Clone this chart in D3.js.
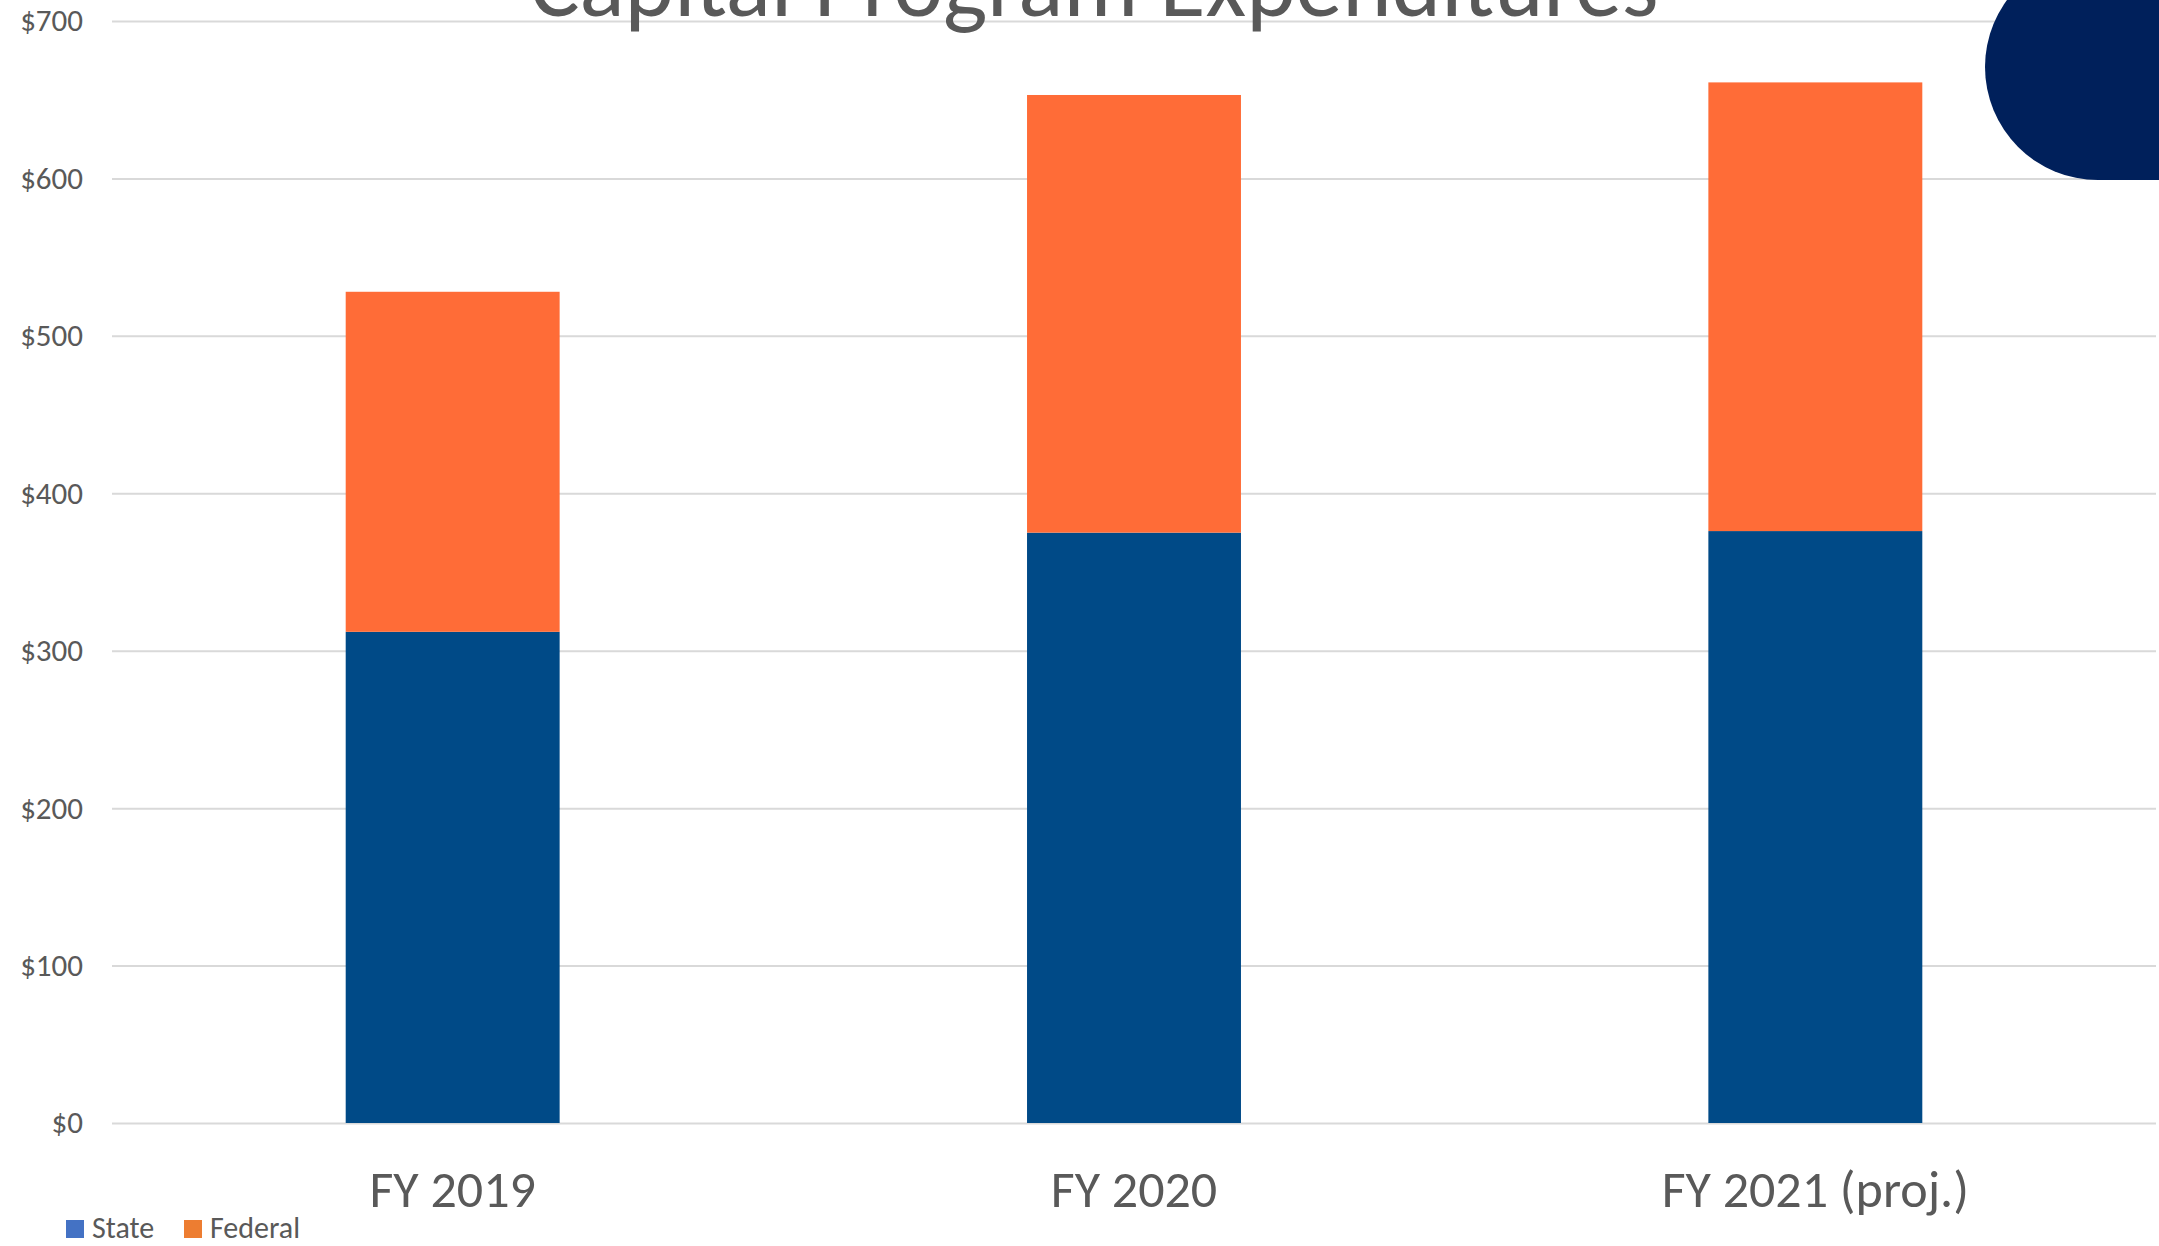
<!DOCTYPE html>
<html lang="en">
<head>
    <meta charset="UTF-8">
    <title>Capital Program Expenditures</title>
    <script src="https://d3js.org/d3.v7.min.js"></script>
    <style>
        body { margin: 0; background: #fff; }
        text { font-family: Carlito, Lato, "Open Sans", sans-serif; fill: #595959; }
    </style>
</head>
<body>
    <div id="chart"></div>
    <script>
        // Data (millions of dollars)
        const categories = ["FY 2019", "FY 2020", "FY 2021 (proj.)"];
        const stateValues = [312, 375, 376];
        const federalValues = [216, 278, 285];
        const seriesNames = ["State", "Federal"];
        const yTicks = [0, 100, 200, 300, 400, 500, 600, 700];

        const width = 2159;
        const height = 1246;
        const plotLeft = 112;
        const plotRight = 2156;
        const plotTop = 21;
        const plotBottom = 1123;

        const svg = d3.select("#chart")
            .append("svg")
            .attr("width", width)
            .attr("height", height);

        svg.append("rect")
            .attr("width", width)
            .attr("height", height)
            .attr("fill", "#fff");

        const x = d3.scaleBand()
            .domain(categories)
            .range([plotLeft, plotRight])
            .paddingInner(0.686)
            .paddingOuter(0.343);

        const y = d3.scaleLinear()
            .domain([0, 700])
            .range([plotBottom, plotTop]);

        // Gridlines + y labels
        const yAxis = svg.append("g")
            .attr("transform", `translate(${plotLeft},0)`)
            .call(d3.axisLeft(y)
                .tickValues(yTicks)
                .tickSize(-(plotRight - plotLeft))
                .tickPadding(29)
                .tickFormat(d => "$" + d));
        yAxis.select(".domain").remove();
        yAxis.selectAll("line")
            .attr("stroke", "#d9d9d9")
            .attr("stroke-width", 2);
        yAxis.selectAll("text")
            .attr("font-size", 31)
            .style("font-family", "Carlito, Lato, sans-serif")
            .attr("fill", "#595959");

        // Stacked data
        const rows = categories.map((c, i) => ({ cat: c, State: stateValues[i], Federal: federalValues[i] }));
        const stacked = d3.stack().keys(seriesNames)(rows);
        const barColors = { State: "#004a87", Federal: "#ff6c37" };

        svg.append("g")
            .selectAll("g")
            .data(stacked)
            .enter()
            .append("g")
            .attr("fill", d => barColors[d.key])
            .selectAll("rect")
            .data(d => d)
            .enter()
            .append("rect")
            .attr("x", d => x(d.data.cat))
            .attr("width", x.bandwidth())
            .attr("y", d => y(d[1]))
            .attr("height", d => y(d[0]) - y(d[1]));

        // Category labels
        svg.append("g")
            .selectAll("text")
            .data(categories)
            .enter()
            .append("text")
            .attr("x", d => x(d) + x.bandwidth() / 2)
            .attr("y", 1207)
            .attr("text-anchor", "middle")
            .attr("font-size", 52)
            .text(d => d);

        // Title (cut off at the top of the picture, as in the original)
        svg.append("text")
            .attr("x", 1094)
            .attr("y", 16)
            .attr("text-anchor", "middle")
            .attr("font-size", 94)
            .attr("font-weight", 300)
            .text("Capital Program Expenditures");

        // Navy corner decoration
        const r = 113, cx = 2098, cy = 67;
        svg.append("path")
            .attr("d", `M${cx},${cy - r} A${r},${r} 0 0 0 ${cx},${cy + r} L${width},${cy + r} L${width},${cy - r} Z`)
            .attr("fill", "#00205b");

        // Legend
        const legendColors = ["#4472c4", "#ed7d31"];
        const legendX = [66, 184];
        const legend = svg.append("g")
            .selectAll("g")
            .data(seriesNames)
            .enter()
            .append("g")
            .attr("transform", (d, i) => `translate(${legendX[i]},1220)`);
        legend.append("rect")
            .attr("width", 18)
            .attr("height", 18)
            .attr("fill", (d, i) => legendColors[i]);
        legend.append("text")
            .attr("x", 26)
            .attr("y", 18)
            .attr("font-size", 30)
            .text(d => d);
    </script>
</body>
</html>
